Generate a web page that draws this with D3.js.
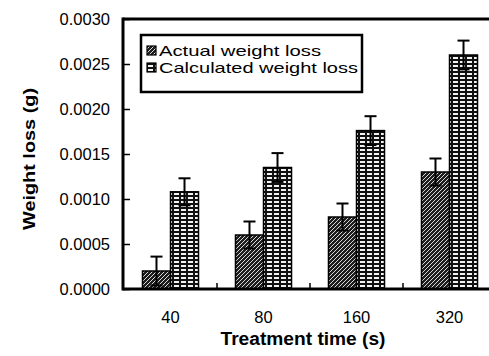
<!DOCTYPE html>
<html>
<head>
<meta charset="utf-8">
<script src="https://cdn.jsdelivr.net/npm/d3@7"></script>
<style>
  html, body { margin: 0; padding: 0; background: #fff; }
  svg { display: block; }
  text { font-family: "Liberation Sans", Arial, sans-serif; fill: #000; }
</style>
</head>
<body>
<svg id="chart" width="489" height="356"></svg>
<script>
// Treatment times (s)
const categories = ["40", "80", "160", "320"];
const seriesNames = ["Actual weight loss", "Calculated weight loss"];
// Weight loss (g)
const actualLoss = [0.0002, 0.0006, 0.0008, 0.0013];
const actualErr = [0.00016, 0.00015, 0.00015, 0.00015];
const calculatedLoss = [0.00108, 0.00135, 0.00176, 0.0026];
const calculatedErr = [0.00015, 0.00016, 0.00016, 0.00016];
const yTicks = [0, 0.0005, 0.001, 0.0015, 0.002, 0.0025, 0.003];

const svg = d3.select("#chart");
const plotLeft = 124, plotRight = 496, plotTop = 19, plotBottom = 289;

// Fill patterns for the two series
const defs = svg.append("defs");
const hatch = defs.append("pattern")
  .attr("id", "pat-actual").attr("patternUnits", "userSpaceOnUse")
  .attr("width", 4).attr("height", 4);
hatch.append("rect").attr("width", 4).attr("height", 4).attr("fill", "#1e1e1e");
hatch.append("path").attr("d", "M-1,5 L5,-1")
  .attr("stroke", "#d8d8d8").attr("stroke-width", 1);

const grid = defs.append("pattern")
  .attr("id", "pat-calc").attr("patternUnits", "userSpaceOnUse")
  .attr("width", 7).attr("height", 4);
grid.append("rect").attr("width", 7).attr("height", 4).attr("fill", "#111");
grid.append("rect").attr("x", 1).attr("y", 1).attr("width", 5).attr("height", 2).attr("fill", "#f2f2f2");

const fills = ["url(#pat-actual)", "url(#pat-calc)"];

const x0 = d3.scaleBand().domain(categories).range([plotLeft, plotRight]).padding(0);
const x1 = d3.scaleBand().domain(seriesNames).range([0, x0.bandwidth()])
  .paddingInner(0).paddingOuter(0.66);
const y = d3.scaleLinear().domain([0, 0.003]).range([plotBottom, plotTop]);

const rows = categories.map((c, i) => ({
  cat: c,
  vals: [
    { s: seriesNames[0], v: actualLoss[i], e: actualErr[i] },
    { s: seriesNames[1], v: calculatedLoss[i], e: calculatedErr[i] }
  ]
}));

// Bars
const groups = svg.append("g").selectAll("g").data(rows).join("g")
  .attr("transform", d => `translate(${x0(d.cat)},0)`);
groups.selectAll("rect").data(d => d.vals).join("rect")
  .attr("x", d => x1(d.s))
  .attr("y", d => y(d.v))
  .attr("width", x1.bandwidth())
  .attr("height", d => y(0) - y(d.v))
  .attr("fill", (d, i) => fills[i])
  .attr("stroke", "#000").attr("stroke-width", 1.5);

// Error bars
const eb = groups.selectAll("g.err").data(d => d.vals).join("g").attr("class", "err")
  .attr("stroke", "#000").attr("stroke-width", 2);
const cx = d => x1(d.s) + x1.bandwidth() / 2;
eb.append("line")
  .attr("x1", cx).attr("x2", cx)
  .attr("y1", d => y(d.v + d.e)).attr("y2", d => y(d.v - d.e));
eb.append("line")
  .attr("x1", d => cx(d) - 6).attr("x2", d => cx(d) + 6)
  .attr("y1", d => y(d.v + d.e)).attr("y2", d => y(d.v + d.e));
eb.append("line")
  .attr("x1", d => cx(d) - 6).attr("x2", d => cx(d) + 6)
  .attr("y1", d => y(d.v - d.e)).attr("y2", d => y(d.v - d.e));

// Y axis with inward ticks
const yAxis = svg.append("g").attr("transform", `translate(${plotLeft},0)`)
  .call(d3.axisLeft(y).tickValues(yTicks).tickFormat(d3.format(".4f"))
    .tickSizeInner(-6).tickSizeOuter(0).tickPadding(14));
yAxis.select(".domain").remove();
yAxis.selectAll(".tick line").attr("stroke", "#000").attr("stroke-width", 1.5);
yAxis.selectAll("text").attr("font-size", 16.5);

// X axis labels at group centres
const xAxis = svg.append("g").attr("transform", `translate(0,${plotBottom})`)
  .call(d3.axisBottom(x0).tickSize(0).tickPadding(22));
xAxis.select(".domain").remove();
xAxis.selectAll("text").attr("font-size", 16.5);

// Small ticks between groups
svg.append("g").selectAll("line").data(categories.slice(1)).join("line")
  .attr("x1", d => x0(d)).attr("x2", d => x0(d))
  .attr("y1", plotBottom).attr("y2", plotBottom - 6)
  .attr("stroke", "#000").attr("stroke-width", 1.5);

// Frame lines
svg.append("line").attr("x1", plotLeft - 1).attr("x2", plotRight).attr("y1", plotBottom).attr("y2", plotBottom)
  .attr("stroke", "#000").attr("stroke-width", 3);
svg.append("line").attr("x1", plotLeft - 1).attr("x2", plotRight).attr("y1", plotTop).attr("y2", plotTop)
  .attr("stroke", "#000").attr("stroke-width", 3);
svg.append("line").attr("x1", plotLeft - 1).attr("x2", plotLeft - 1).attr("y1", plotTop - 1.5).attr("y2", plotBottom + 1.5)
  .attr("stroke", "#000").attr("stroke-width", 3);

// Axis titles
svg.append("text").attr("x", 303).attr("y", 345)
  .attr("text-anchor", "middle").attr("font-weight", "bold").attr("font-size", 17.5)
  .attr("textLength", 165).attr("lengthAdjust", "spacingAndGlyphs")
  .text("Treatment time (s)");
svg.append("text").attr("transform", "translate(35,159) rotate(-90)")
  .attr("text-anchor", "middle").attr("font-weight", "bold").attr("font-size", 17)
  .attr("textLength", 142).attr("lengthAdjust", "spacingAndGlyphs")
  .text("Weight loss (g)");

// Legend
const legend = svg.append("g");
legend.append("rect").attr("x", 141).attr("y", 35).attr("width", 221).attr("height", 57)
  .attr("fill", "#fff").attr("stroke", "#000").attr("stroke-width", 2.5);
const legendWidths = [162, 199];
seriesNames.forEach((name, i) => {
  const yy = 56 + i * 17;
  legend.append("rect").attr("x", 147).attr("y", yy - 10).attr("width", 9).attr("height", 9)
    .attr("fill", fills[i]).attr("stroke", "#000").attr("stroke-width", 1.2);
  legend.append("text").attr("x", 159).attr("y", yy).attr("font-size", 15)
    .attr("textLength", legendWidths[i]).attr("lengthAdjust", "spacingAndGlyphs")
    .text(name);
});
</script>
</body>
</html>
